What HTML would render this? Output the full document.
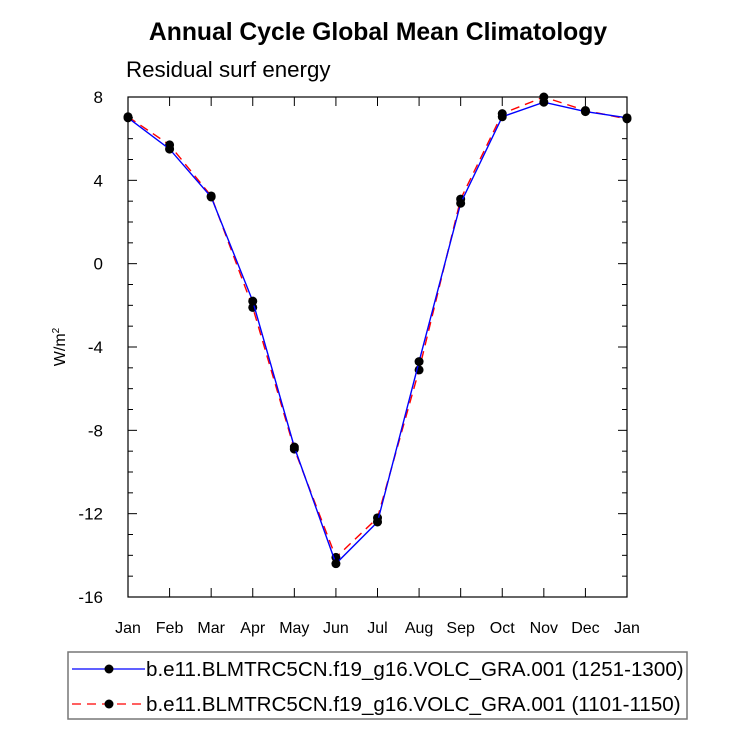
<!DOCTYPE html>
<html><head><meta charset="utf-8"><style>
body{margin:0;background:#fff;}
svg{display:block;font-family:"Liberation Sans",Arial,sans-serif;}
</style></head><body>
<svg id="chart" width="733" height="740">
<text x="378" y="40" text-anchor="middle" font-size="24.7" font-weight="bold">Annual Cycle Global Mean Climatology</text>
<text x="126" y="77" font-size="22.3">Residual surf energy</text>
<g id="axes"></g>
<g id="series"></g>
<text transform="translate(65,347) rotate(-90)" text-anchor="middle" font-size="16">W/m<tspan dy="-6" font-size="10">2</tspan></text>
<g>
<rect x="68" y="652" width="619" height="67" fill="none" stroke="#777" stroke-width="1.5"/>
<g>
<line x1="72" y1="669" x2="145" y2="669" stroke="#00f" stroke-width="1.3"/>
<circle cx="109" cy="669" r="4.5" fill="#000"/>
<text x="146" y="676" font-size="20.6">b.e11.BLMTRC5CN.f19_g16.VOLC_GRA.001 (1251-1300)</text>
</g>
<g>
<line x1="72" y1="704" x2="145" y2="704" stroke="#f00" stroke-width="1.3" stroke-dasharray="9,6"/>
<circle cx="109" cy="704" r="4.5" fill="#000"/>
<text x="146" y="711" font-size="20.6">b.e11.BLMTRC5CN.f19_g16.VOLC_GRA.001 (1101-1150)</text>
</g>
</g>
</svg>
<script>
const months=["Jan","Feb","Mar","Apr","May","Jun","Jul","Aug","Sep","Oct","Nov","Dec","Jan"];
const seriesA=[7.0,5.5,3.2,-1.8,-8.8,-14.4,-12.4,-4.7,2.9,7.05,7.75,7.3,7.0];
const seriesB=[7.05,5.7,3.25,-2.1,-8.9,-14.1,-12.2,-5.1,3.1,7.2,8.0,7.35,6.95];
const yTicks=[8,4,0,-4,-8,-12,-16];
const X0=128,X1=627,Y0=97,Y1=597,YMAX=8,YMIN=-16;
const xs=i=>X0+(X1-X0)*i/(months.length-1);
const ys=v=>Y0+(YMAX-v)/(YMAX-YMIN)*(Y1-Y0);
const NS="http://www.w3.org/2000/svg";
function mk(tag,attrs,parent){const e=document.createElementNS(NS,tag);for(const k in attrs)e.setAttribute(k,attrs[k]);parent.appendChild(e);return e;}
const ax=document.getElementById('axes');
const frame=mk('rect',{x:X0,y:Y0,width:X1-X0,height:Y1-Y0,fill:'none',stroke:'#000','stroke-width':1.2},ax);


for(let v=YMIN;v<=YMAX;v+=1){
  const major=(v%4===0);const L=major?9:5;const y=ys(v);
  mk('line',{x1:X0,y1:y,x2:X0+L,y2:y,stroke:'#000'},ax);
  mk('line',{x1:X1,y1:y,x2:X1-L,y2:y,stroke:'#000'},ax);
}
yTicks.forEach(v=>{
  const t=mk('text',{x:X0-25,y:ys(v)+6,'text-anchor':'end','font-size':17},ax);
  t.textContent=v;
  
  
});
months.forEach((m,i)=>{
  const x=xs(i);
  mk('line',{x1:x,y1:Y1,x2:x,y2:Y1-9,stroke:'#000'},ax);
  mk('line',{x1:x,y1:Y0,x2:x,y2:Y0+9,stroke:'#000'},ax);
  const t=mk('text',{x:x,y:Y1+36,'text-anchor':'middle','font-size':16},ax);
  t.textContent=m;
  
  
});
const sg=document.getElementById('series');
function draw(vals,color,dash,name){
  const g=mk('g',{},sg);
  
  
  const pts=vals.map((v,i)=>xs(i)+','+ys(v)).join(' ');
  const attrs={points:pts,fill:'none',stroke:color,'stroke-width':1.4};
  if(dash)attrs['stroke-dasharray']=dash;
  mk('polyline',attrs,g);
  vals.forEach((v,i)=>{
    const c=mk('circle',{cx:xs(i),cy:ys(v),r:4.5,fill:'#000'},g);
    
    
  });
}
draw(seriesB,'#f00','9,6','series-1101-1150');
draw(seriesA,'#00f',null,'series-1251-1300');
</script>
</body></html>
